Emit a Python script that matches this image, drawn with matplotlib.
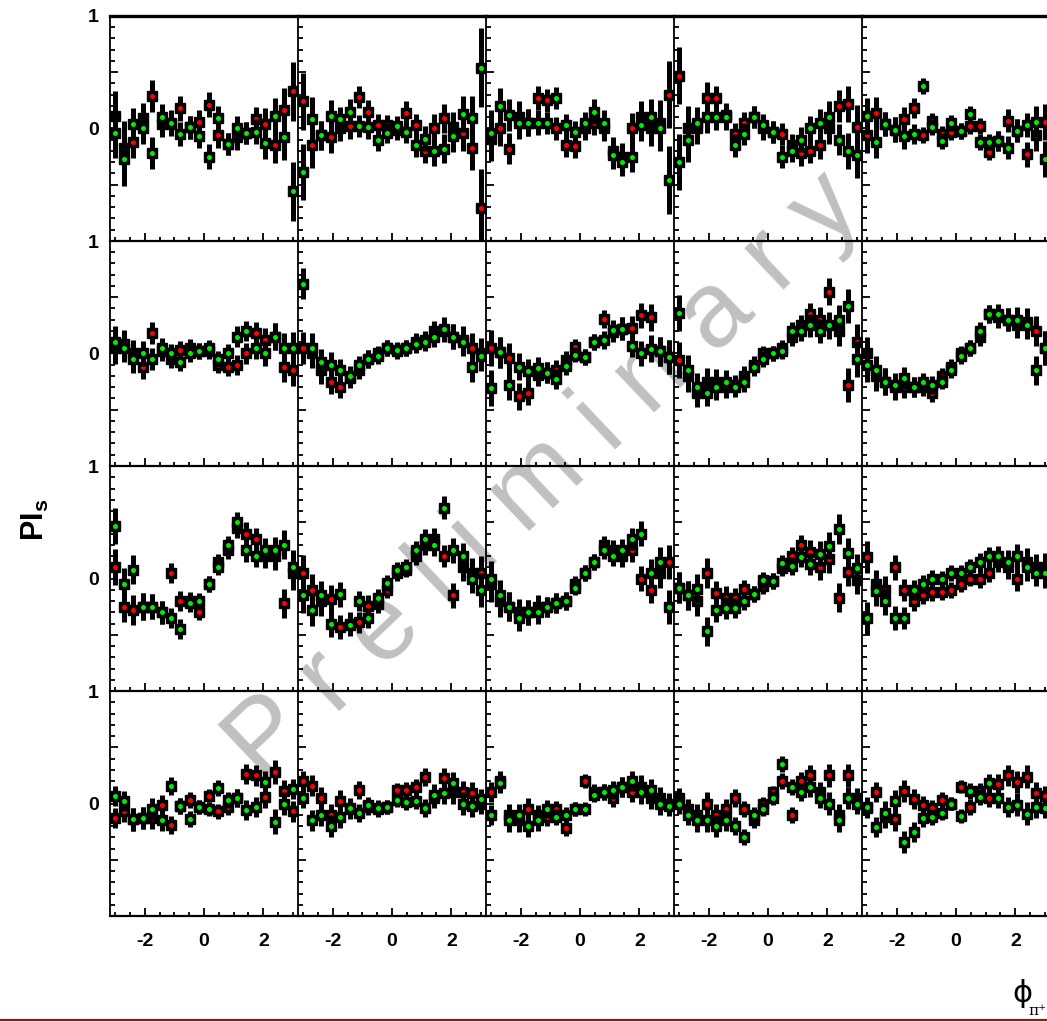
import matplotlib
matplotlib.use('Agg')
import matplotlib.pyplot as plt
from matplotlib import font_manager
from matplotlib.lines import Line2D
from matplotlib.ticker import MultipleLocator, FixedLocator

# bin centres in phi (20 bins over the panel range)
phi = [-3.012, -2.695, -2.378, -2.061, -1.744, -1.427, -1.110, -0.793, -0.476, -0.159,
       0.159, 0.476, 0.793, 1.110, 1.427, 1.744, 2.061, 2.378, 2.695, 3.012]

x_ticks = [-2, 0, 2]
y_ticks = [0, 1]

# ---- row 1 ----
red_r1c1 = [0.11, -0.17, -0.12, 0.09, 0.29, 0.04, 0.04, 0.18, 0.01, 0.06, 0.21, -0.06, -0.14, -0.08, -0.04, 0.08, 0.04, -0.15, 0.16, 0.33]
grn_r1c1 = [-0.04, -0.27, 0.04, 0.0, -0.22, 0.10, 0.05, -0.05, 0.01, -0.07, -0.25, 0.09, -0.14, 0.0, -0.04, -0.03, -0.13, 0.11, -0.08, -0.56]
err_r1c1 = [0.22, 0.24, 0.14, 0.14, 0.14, 0.12, 0.11, 0.11, 0.1, 0.1, 0.11, 0.11, 0.1, 0.11, 0.1, 0.11, 0.14, 0.16, 0.2, 0.26]

red_r1c2 = [0.24, -0.15, -0.06, -0.08, 0.0, 0.02, 0.28, 0.15, 0.03, 0.03, -0.01, 0.14, 0.03, -0.20, 0.0, 0.09, 0.01, -0.04, -0.17, -0.71]
grn_r1c2 = [-0.39, 0.08, -0.06, 0.11, 0.08, 0.15, 0.02, 0.01, -0.10, -0.04, 0.02, -0.03, -0.15, -0.09, -0.20, -0.18, -0.07, 0.13, 0.09, 0.54]
err_r1c2 = [0.25, 0.2, 0.13, 0.14, 0.11, 0.11, 0.1, 0.1, 0.1, 0.09, 0.09, 0.1, 0.1, 0.11, 0.13, 0.13, 0.14, 0.16, 0.2, 0.35]

red_r1c3 = [-0.09, 0.0, -0.18, 0.1, 0.05, 0.27, 0.25, 0.0, -0.15, -0.16, 0.0, 0.05, 0.0, -0.2, -0.25, 0.0, 0.1, 0.0, 0.05, 0.3]
grn_r1c3 = [-0.04, 0.2, 0.12, 0.05, 0.05, 0.05, 0.05, 0.27, 0.03, -0.03, 0.05, 0.15, 0.05, -0.24, -0.3, -0.25, 0.03, 0.1, 0.0, -0.46]
err_r1c3 = [0.2, 0.16, 0.14, 0.14, 0.12, 0.11, 0.1, 0.1, 0.1, 0.1, 0.1, 0.11, 0.11, 0.12, 0.12, 0.14, 0.14, 0.16, 0.2, 0.3]

red_r1c4 = [0.47, 0.0, 0.0, 0.27, 0.27, 0.12, -0.05, 0.05, 0.1, 0.0, -0.03, -0.05, -0.15, -0.22, -0.2, -0.15, 0.0, 0.2, 0.22, 0.01]
grn_r1c4 = [-0.3, -0.1, 0.05, 0.1, 0.1, 0.1, -0.15, -0.05, 0.1, 0.03, -0.03, -0.25, -0.2, -0.1, 0.0, 0.05, 0.1, -0.1, -0.2, -0.24]
err_r1c4 = [0.25, 0.2, 0.14, 0.14, 0.11, 0.11, 0.1, 0.1, 0.1, 0.1, 0.1, 0.1, 0.1, 0.11, 0.11, 0.12, 0.14, 0.14, 0.16, 0.2]

red_r1c5 = [-0.06, 0.14, 0.04, -0.01, 0.08, 0.18, -0.06, 0.07, -0.05, -0.03, -0.02, 0.02, 0.02, -0.21, -0.11, 0.07, -0.02, -0.23, -0.06, 0.06]
grn_r1c5 = [0.11, -0.12, 0.04, -0.01, -0.07, -0.05, 0.38, 0.01, -0.11, 0.05, -0.02, 0.13, -0.12, -0.12, -0.11, -0.17, -0.02, 0.03, 0.06, -0.27]
err_r1c5 = [0.16, 0.14, 0.11, 0.11, 0.11, 0.09, 0.07, 0.07, 0.07, 0.07, 0.07, 0.07, 0.07, 0.07, 0.09, 0.1, 0.1, 0.11, 0.14, 0.16]

# ---- row 2 ----
red_r2c1 = [0.05, 0.08, 0.0, -0.12, 0.18, 0.02, -0.05, 0.03, 0.05, 0.02, 0.02, -0.1, -0.12, -0.1, 0.0, 0.18, 0.12, 0.15, -0.12, -0.15]
grn_r2c1 = [0.1, 0.05, -0.05, 0.0, -0.05, 0.05, 0.0, -0.08, 0.0, 0.02, 0.05, -0.05, 0.0, 0.15, 0.2, 0.05, 0.0, 0.15, 0.05, 0.05]
err_r2c1 = [0.14, 0.13, 0.12, 0.11, 0.1, 0.09, 0.08, 0.08, 0.08, 0.07, 0.07, 0.07, 0.08, 0.09, 0.09, 0.1, 0.11, 0.12, 0.13, 0.14]

red_r2c2 = [0.05, 0.0, -0.15, -0.25, -0.3, -0.22, -0.15, -0.05, 0.0, 0.05, 0.02, 0.05, 0.1, 0.12, 0.2, 0.2, 0.15, 0.12, 0.05, 0.0]
grn_r2c2 = [0.62, 0.05, -0.08, -0.1, -0.15, -0.2, -0.1, -0.05, -0.02, 0.05, 0.03, 0.05, 0.08, 0.1, 0.15, 0.22, 0.15, 0.1, -0.12, -0.02]
err_r2c2 = [0.14, 0.13, 0.12, 0.11, 0.1, 0.09, 0.08, 0.08, 0.07, 0.07, 0.07, 0.07, 0.08, 0.08, 0.09, 0.1, 0.11, 0.12, 0.13, 0.14]

red_r2c3 = [0.05, 0.01, -0.04, -0.38, -0.35, -0.19, -0.17, -0.15, -0.06, 0.06, -0.03, 0.10, 0.31, 0.19, 0.22, 0.23, 0.34, 0.32, 0.02, -0.03]
grn_r2c3 = [-0.31, 0.01, -0.28, -0.12, -0.16, -0.13, -0.17, -0.23, -0.11, -0.01, -0.03, 0.10, 0.12, 0.21, 0.22, 0.07, 0.0, 0.04, 0.02, -0.03]
err_r2c3 = [0.16, 0.14, 0.13, 0.12, 0.11, 0.1, 0.09, 0.09, 0.08, 0.07, 0.07, 0.07, 0.08, 0.09, 0.1, 0.1, 0.11, 0.12, 0.13, 0.15]

red_r2c4 = [-0.06, -0.2, -0.35, -0.25, -0.25, -0.3, -0.28, -0.2, -0.1, 0.0, 0.0, 0.05, 0.15, 0.25, 0.35, 0.3, 0.55, 0.2, -0.28, 0.1]
grn_r2c4 = [0.36, -0.15, -0.3, -0.35, -0.3, -0.25, -0.3, -0.25, -0.12, -0.05, 0.0, 0.02, 0.2, 0.2, 0.25, 0.2, 0.25, 0.3, 0.42, -0.05]
err_r2c4 = [0.16, 0.14, 0.13, 0.12, 0.11, 0.1, 0.09, 0.09, 0.08, 0.07, 0.07, 0.07, 0.08, 0.09, 0.1, 0.11, 0.12, 0.13, 0.15, 0.16]

red_r2c5 = [0.0, -0.2, -0.25, -0.3, -0.3, -0.3, -0.3, -0.35, -0.2, -0.12, 0.0, 0.05, 0.15, 0.35, 0.32, 0.3, 0.25, 0.28, 0.2, 0.05]
grn_r2c5 = [-0.1, -0.15, -0.25, -0.28, -0.22, -0.3, -0.25, -0.28, -0.25, -0.15, -0.02, 0.05, 0.2, 0.35, 0.35, 0.3, 0.3, 0.25, -0.15, 0.05]
err_r2c5 = [0.15, 0.13, 0.12, 0.11, 0.1, 0.09, 0.08, 0.08, 0.07, 0.07, 0.07, 0.07, 0.08, 0.08, 0.09, 0.1, 0.11, 0.12, 0.13, 0.15]

# ---- row 3 ----
red_r3c1 = [0.1, -0.25, -0.28, -0.25, -0.25, -0.3, 0.05, -0.2, -0.2, -0.3, -0.05, 0.15, 0.25, 0.45, 0.4, 0.35, 0.2, 0.2, -0.22, 0.05]
grn_r3c1 = [0.47, -0.05, 0.08, -0.25, -0.25, -0.3, -0.35, -0.45, -0.22, -0.2, -0.05, 0.1, 0.3, 0.5, 0.25, 0.2, 0.25, 0.25, 0.3, 0.1]
err_r3c1 = [0.16, 0.14, 0.13, 0.12, 0.11, 0.1, 0.09, 0.09, 0.08, 0.07, 0.07, 0.07, 0.08, 0.09, 0.1, 0.1, 0.11, 0.12, 0.13, 0.15]

red_r3c2 = [0.05, -0.1, -0.2, -0.18, -0.43, -0.4, -0.39, -0.24, -0.23, -0.10, 0.05, 0.08, 0.2, 0.3, 0.35, 0.2, -0.15, 0.1, 0.05, 0.05]
grn_r3c2 = [-0.15, -0.28, -0.15, -0.40, -0.14, -0.41, -0.20, -0.35, -0.17, -0.04, 0.08, 0.1, 0.25, 0.35, 0.3, 0.63, 0.25, 0.2, 0.0, -0.1]
err_r3c2 = [0.16, 0.14, 0.13, 0.12, 0.11, 0.1, 0.09, 0.09, 0.08, 0.07, 0.07, 0.07, 0.08, 0.09, 0.1, 0.1, 0.11, 0.12, 0.13, 0.15]

red_r3c3 = [-0.05, -0.2, -0.25, -0.3, -0.3, -0.25, -0.25, -0.22, -0.2, -0.05, 0.05, 0.15, 0.3, 0.25, 0.2, 0.25, 0.0, -0.1, 0.05, 0.15]
grn_r3c3 = [0.0, -0.15, -0.25, -0.35, -0.3, -0.3, -0.25, -0.22, -0.2, -0.08, 0.05, 0.15, 0.25, 0.2, 0.25, 0.35, 0.4, 0.05, 0.15, -0.25]
err_r3c3 = [0.16, 0.14, 0.13, 0.12, 0.11, 0.1, 0.09, 0.09, 0.08, 0.07, 0.07, 0.07, 0.08, 0.09, 0.1, 0.1, 0.11, 0.12, 0.13, 0.15]

red_r3c4 = [-0.08, -0.15, -0.20, 0.05, -0.13, -0.17, -0.17, -0.09, -0.14, -0.07, -0.02, 0.09, 0.20, 0.30, 0.24, 0.10, 0.17, -0.17, 0.06, -0.01]
grn_r3c4 = [-0.08, -0.15, -0.09, -0.47, -0.28, -0.26, -0.26, -0.20, -0.14, -0.01, -0.02, 0.14, 0.11, 0.19, 0.13, 0.22, 0.29, 0.44, 0.23, 0.09]
err_r3c4 = [0.14, 0.13, 0.13, 0.13, 0.11, 0.1, 0.09, 0.08, 0.07, 0.07, 0.07, 0.07, 0.08, 0.09, 0.1, 0.11, 0.12, 0.13, 0.13, 0.13]

red_r3c5 = [0.19, -0.05, -0.1, 0.1, -0.1, -0.2, -0.15, -0.12, -0.12, -0.1, -0.05, 0.0, 0.0, 0.05, 0.15, 0.1, 0.0, 0.15, 0.1, 0.1]
grn_r3c5 = [-0.35, -0.11, -0.2, -0.35, -0.35, -0.1, -0.05, 0.0, 0.0, 0.05, 0.05, 0.1, 0.15, 0.2, 0.2, 0.15, 0.2, 0.1, 0.05, 0.05]
err_r3c5 = [0.14, 0.13, 0.12, 0.11, 0.1, 0.09, 0.08, 0.08, 0.07, 0.07, 0.07, 0.07, 0.08, 0.08, 0.09, 0.1, 0.11, 0.12, 0.12, 0.13]

# ---- row 4 ----
red_r4c1 = [-0.13, -0.07, -0.14, -0.13, -0.13, -0.01, -0.19, -0.02, 0.03, -0.03, 0.07, -0.07, -0.03, 0.05, 0.26, 0.25, 0.06, 0.28, 0.11, -0.07]
grn_r4c1 = [0.07, 0.02, -0.14, -0.13, -0.05, -0.15, 0.16, -0.02, -0.14, -0.03, -0.05, 0.14, 0.03, 0.05, -0.06, -0.03, 0.19, -0.16, 0.0, 0.13]
err_r4c1 = [0.09, 0.09, 0.1, 0.1, 0.1, 0.09, 0.08, 0.07, 0.07, 0.06, 0.06, 0.07, 0.07, 0.08, 0.09, 0.09, 0.1, 0.11, 0.1, 0.09]

red_r4c2 = [0.2, 0.16, 0.05, -0.1, 0.02, -0.05, 0.12, -0.03, -0.05, -0.03, 0.12, 0.12, 0.15, 0.24, 0.05, 0.23, 0.1, 0.1, 0.09, 0.0]
grn_r4c2 = [0.05, -0.15, -0.1, -0.2, -0.12, -0.04, -0.08, -0.01, -0.04, -0.03, 0.03, 0.01, 0.02, -0.04, 0.08, 0.09, 0.18, 0.0, -0.02, 0.04]
err_r4c2 = [0.09, 0.09, 0.1, 0.1, 0.1, 0.09, 0.08, 0.07, 0.07, 0.06, 0.06, 0.07, 0.07, 0.08, 0.09, 0.09, 0.1, 0.1, 0.1, 0.09]

red_r4c3 = [0.1, 0.2, -0.1, -0.15, -0.05, -0.1, -0.12, -0.05, -0.22, -0.05, 0.2, 0.1, 0.1, 0.05, 0.15, 0.1, 0.15, 0.05, 0.05, 0.0]
grn_r4c3 = [-0.1, 0.18, -0.15, -0.1, -0.2, -0.15, -0.05, -0.12, -0.1, -0.05, -0.05, 0.08, 0.1, 0.12, 0.15, 0.2, 0.1, 0.12, 0.0, -0.02]
err_r4c3 = [0.09, 0.09, 0.1, 0.1, 0.1, 0.09, 0.08, 0.07, 0.07, 0.06, 0.06, 0.07, 0.07, 0.08, 0.09, 0.09, 0.1, 0.1, 0.1, 0.09]

red_r4c4 = [0.05, -0.05, -0.1, 0.0, -0.1, -0.05, 0.05, -0.05, -0.15, 0.0, 0.1, 0.2, -0.1, 0.2, 0.25, 0.1, 0.25, -0.1, 0.25, 0.05]
grn_r4c4 = [0.0, -0.1, -0.15, -0.15, -0.2, -0.15, -0.2, -0.3, -0.1, -0.05, 0.05, 0.35, 0.15, 0.1, 0.15, 0.05, 0.0, -0.15, 0.05, 0.0]
err_r4c4 = [0.09, 0.09, 0.1, 0.1, 0.1, 0.09, 0.08, 0.07, 0.07, 0.06, 0.06, 0.07, 0.07, 0.08, 0.09, 0.09, 0.1, 0.1, 0.1, 0.09]

red_r4c5 = [-0.04, 0.10, -0.12, -0.14, 0.11, 0.04, -0.01, -0.04, 0.03, 0.0, 0.15, -0.03, 0.11, 0.05, 0.17, 0.25, 0.19, 0.24, 0.09, 0.07]
grn_r4c5 = [-0.03, -0.21, -0.08, 0.02, -0.34, -0.25, -0.13, -0.12, -0.08, 0.0, -0.11, 0.11, 0.06, 0.18, 0.05, -0.03, -0.01, -0.09, -0.03, -0.04]
err_r4c5 = [0.09, 0.09, 0.1, 0.1, 0.1, 0.09, 0.08, 0.07, 0.07, 0.06, 0.06, 0.07, 0.07, 0.08, 0.09, 0.09, 0.1, 0.1, 0.1, 0.09]

red_sets = [[red_r1c1, red_r1c2, red_r1c3, red_r1c4, red_r1c5],
            [red_r2c1, red_r2c2, red_r2c3, red_r2c4, red_r2c5],
            [red_r3c1, red_r3c2, red_r3c3, red_r3c4, red_r3c5],
            [red_r4c1, red_r4c2, red_r4c3, red_r4c4, red_r4c5]]
grn_sets = [[grn_r1c1, grn_r1c2, grn_r1c3, grn_r1c4, grn_r1c5],
            [grn_r2c1, grn_r2c2, grn_r2c3, grn_r2c4, grn_r2c5],
            [grn_r3c1, grn_r3c2, grn_r3c3, grn_r3c4, grn_r3c5],
            [grn_r4c1, grn_r4c2, grn_r4c3, grn_r4c4, grn_r4c5]]
err_sets = [[err_r1c1, err_r1c2, err_r1c3, err_r1c4, err_r1c5],
            [err_r2c1, err_r2c2, err_r2c3, err_r2c4, err_r2c5],
            [err_r3c1, err_r3c2, err_r3c3, err_r3c4, err_r3c5],
            [err_r4c1, err_r4c2, err_r4c3, err_r4c4, err_r4c5]]

# pick a narrow bold face if there is one
names = {f.name for f in font_manager.fontManager.ttflist}
tick_font = 'Liberation Sans Narrow' if 'Liberation Sans Narrow' in names else 'Liberation Sans'
plt.rcParams['mathtext.fontset'] = 'custom'
plt.rcParams['mathtext.bf'] = 'Liberation Sans:bold'
plt.rcParams['mathtext.rm'] = 'Liberation Sans'

W, H = 1047, 1022
fig = plt.figure(figsize=(W / 100, H / 100), dpi=100)

x0, y0 = 110, 16
pw, ph = 188, 225

for r in range(4):
    for c in range(5):
        left = x0 + pw * c
        top = y0 + ph * r
        ax = fig.add_axes([left / W, 1 - (top + ph) / H, pw / W, ph / H])
        ax.patch.set_alpha(0)   # let the watermark show underneath the points
        ax.set_xlim(-3.17, 3.17)
        ax.set_ylim(-1, 1)

        err = err_sets[r][c]
        for vals, col, z in ((red_sets[r][c], '#ff0000', 2), (grn_sets[r][c], '#00ee00', 4)):
            ax.errorbar(phi, vals, yerr=err, fmt='s', color='black', ms=7.2,
                        elinewidth=3.6, capsize=0, zorder=z)
            ax.plot(phi, vals, 'o', color=col, ms=3.6, mec='none', zorder=z + 1)

        ax.spines['right'].set_visible(False)
        ax.spines['top'].set_visible(r == 0)
        ax.spines['top'].set_linewidth(2.4)
        ax.spines['left'].set_linewidth(1.3)
        ax.spines['bottom'].set_linewidth(1.6)

        ax.xaxis.set_major_locator(FixedLocator(x_ticks))
        ax.xaxis.set_minor_locator(MultipleLocator(0.5))
        ax.yaxis.set_major_locator(MultipleLocator(0.5))
        ax.yaxis.set_minor_locator(MultipleLocator(0.1))
        ax.tick_params(which='both', direction='in', top=False, right=False, width=1.3)
        ax.tick_params(axis='x', which='major', length=6)
        ax.tick_params(axis='x', which='minor', length=3)
        ax.tick_params(axis='y', which='major', length=6)
        ax.tick_params(axis='y', which='minor', length=3.5)

        if r == 3:
            ax.set_xticklabels(['%d' % t for t in x_ticks], fontsize=14,
                               fontweight='bold', family=tick_font)
            ax.tick_params(axis='x', which='major', pad=12)
        else:
            ax.set_xticklabels([])
        if c == 0:
            ax.set_yticks([-1, -0.5, 0, 0.5, 1])
            ax.set_yticklabels(['', '', '0', '', '1'], fontsize=14,
                               fontweight='bold', family=tick_font)
            ax.tick_params(axis='y', which='major', pad=8)
        else:
            ax.set_yticklabels([])

# axis titles
fig.text(35 / W, 1 - 520 / H, r'$\mathbf{PI}_{\mathbf{s}}$', rotation=90,
         fontsize=22, ha='center', va='center')
fig.text(1012 / W, 1 - 993 / H, 'ϕ', fontsize=22, family='DejaVu Sans',
         ha='left', va='center')
fig.text(1028 / W, 1 - 1011 / H, 'π⁺', fontsize=11, family='DejaVu Serif',
         ha='left', va='center')

# watermark, under the data
fig.text(545 / W, 1 - 478 / H, 'P r e l i m i n a r y', rotation=43.5,
         fontsize=77, color='#c0c0c0', family='Liberation Sans',
         ha='center', va='center', rotation_mode='anchor', zorder=-1)

# thin frame line at the bottom
fig.add_artist(Line2D([0, 1], [1 - 1020 / H, 1 - 1020 / H], color='#8b1a1a', lw=1.6))

fig.savefig('out.png', dpi=100)
